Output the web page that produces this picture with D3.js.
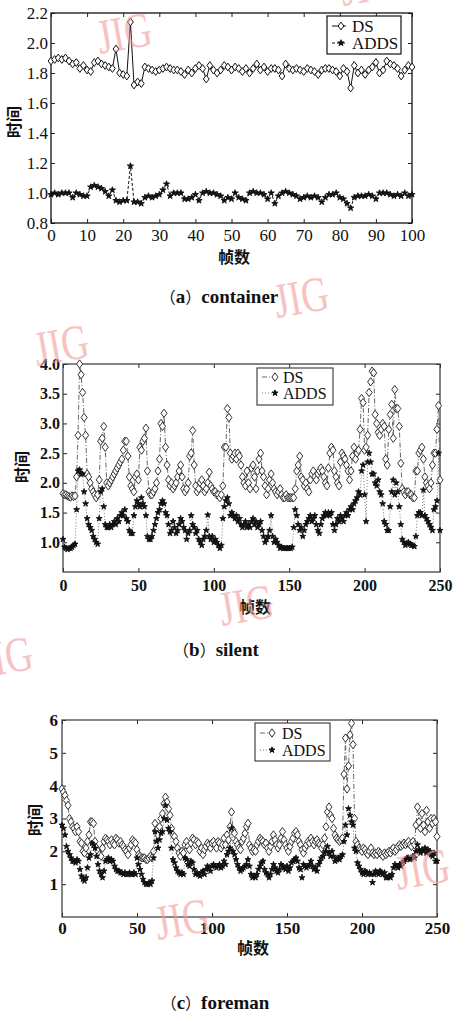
<!DOCTYPE html>
<html><head><meta charset="utf-8">
<script src="https://cdn.jsdelivr.net/npm/d3@7"></script>
<style>body{margin:0;background:#fff;overflow:hidden}</style>
</head><body>
<svg id="c" width="453" height="1013"></svg>
<script>
// ---------- DATA ----------
const seriesNames = ["DS", "ADDS"];
const axisLabelX = "帧数";
const axisLabelY = "时间";

// (a) container, frames 0..100
const dsA = [
 1.88,1.89,1.90,1.89,1.90,1.88,1.86,1.87,1.83,1.85,
 1.82,1.81,1.87,1.88,1.86,1.85,1.84,1.83,1.96,1.80,
 1.79,1.78,2.14,1.72,1.74,1.73,1.84,1.83,1.82,1.81,
 1.82,1.83,1.84,1.83,1.82,1.82,1.81,1.79,1.82,1.80,
 1.83,1.85,1.83,1.76,1.85,1.82,1.80,1.82,1.85,1.84,
 1.82,1.84,1.83,1.81,1.83,1.80,1.83,1.86,1.82,1.84,
 1.81,1.83,1.83,1.82,1.78,1.86,1.83,1.82,1.83,1.82,
 1.81,1.83,1.82,1.81,1.79,1.82,1.83,1.83,1.82,1.81,
 1.78,1.83,1.81,1.70,1.85,1.80,1.82,1.79,1.82,1.84,
 1.87,1.80,1.82,1.88,1.86,1.85,1.83,1.78,1.82,1.85,
 1.84];
const addsA = [
 0.99,1.00,0.99,1.00,1.00,1.00,0.97,1.00,0.99,0.98,
 0.98,1.04,1.05,1.04,1.03,1.01,0.98,1.02,0.95,0.94,
 0.95,0.95,1.18,0.94,0.94,0.93,0.97,0.98,0.97,0.98,
 0.99,1.02,1.06,0.98,1.00,1.00,1.00,0.96,0.96,0.97,
 0.99,0.95,1.00,1.01,1.00,1.00,0.99,0.98,0.95,0.97,
 0.96,1.00,0.97,0.96,0.95,1.00,1.01,1.00,1.00,0.99,
 0.96,1.00,0.93,0.98,1.00,1.01,1.00,0.99,0.98,0.96,
 0.97,0.98,0.97,0.98,0.97,0.94,0.97,0.99,0.99,1.00,
 0.97,0.96,0.93,0.90,0.97,0.98,0.98,0.98,0.99,0.98,
 0.96,1.00,1.00,1.00,0.99,0.98,0.99,0.98,1.00,0.98,
 0.99];

// (b) silent, frames 0..250
const dsB = [
 1.82,1.80,1.80,1.78,1.77,1.76,1.78,1.77,1.78,2.10,
 2.80,4.00,3.82,3.52,3.10,2.80,2.15,2.10,2.00,1.90,
 1.85,1.80,1.75,1.80,2.05,2.70,2.75,2.95,2.60,2.00,
 1.95,2.00,2.05,2.10,2.15,2.20,2.25,2.30,2.35,2.40,
 2.55,2.70,2.70,2.45,2.10,1.95,1.90,1.85,2.10,2.15,
 2.05,2.60,2.55,2.70,2.75,2.92,2.20,1.85,1.80,1.80,
 1.85,1.90,2.00,2.20,2.40,3.00,2.95,3.17,2.60,2.30,
 2.05,1.95,2.00,1.90,1.95,2.00,2.10,2.20,2.30,2.10,
 1.90,1.85,1.90,2.00,2.45,2.50,2.88,2.30,1.95,1.85,
 1.90,2.00,2.05,1.95,1.85,1.90,2.00,2.18,1.95,1.90,
 1.85,1.85,1.80,1.80,1.75,1.80,1.95,2.60,2.60,3.25,
 3.10,2.50,2.40,2.45,2.50,2.40,2.50,2.45,2.30,2.10,
 2.00,1.95,2.20,2.00,1.90,2.25,2.30,2.10,1.90,2.20,
 2.40,2.50,2.20,2.10,1.95,1.80,1.90,2.05,2.15,2.00,
 1.90,1.85,1.80,1.85,1.90,1.80,1.75,1.75,1.80,1.75,
 1.75,1.75,1.75,1.75,1.90,2.20,2.30,2.45,2.10,2.05,
 1.95,2.00,1.90,1.85,2.05,2.15,2.20,2.10,2.05,2.15,
 2.20,2.25,2.20,2.10,2.00,1.95,2.25,2.50,2.60,2.55,
 2.20,2.10,2.00,1.95,2.35,2.50,2.45,2.40,2.30,2.20,
 2.05,2.20,2.45,2.60,2.40,2.50,2.55,2.90,3.42,3.35,
 2.55,2.60,2.80,3.52,3.70,3.88,3.85,3.15,3.00,2.85,
 2.80,2.90,3.00,2.95,2.40,2.30,2.90,3.15,3.32,2.75,
 3.57,3.25,3.25,2.95,2.33,1.90,1.85,1.80,1.85,1.85,
 1.80,1.80,1.75,1.75,2.20,2.20,2.50,2.55,2.60,2.40,
 2.10,2.00,1.95,1.90,2.00,2.30,2.50,2.50,2.90,3.30,
 2.05];
const addsB = [
 1.05,0.92,0.90,0.88,0.90,0.90,0.92,0.95,0.97,1.55,
 2.20,2.22,2.15,2.15,1.85,1.65,1.40,1.30,1.25,1.20,
 1.10,1.05,1.00,0.97,1.40,1.85,1.90,1.60,1.30,1.25,
 1.25,1.30,1.25,1.30,1.35,1.30,1.40,1.35,1.45,1.50,
 1.45,1.55,1.40,1.35,1.20,1.15,1.15,1.45,1.60,1.70,
 1.65,1.60,1.75,1.65,1.60,1.45,1.10,1.05,1.05,1.10,
 1.20,1.30,1.40,1.50,1.55,1.65,1.70,1.65,1.50,1.45,
 1.30,1.15,1.20,1.35,1.25,1.15,1.20,1.30,1.40,1.35,
 1.25,1.20,1.05,1.15,1.20,1.45,1.30,1.25,1.15,1.20,
 1.05,1.00,0.95,1.05,1.10,1.20,1.46,1.10,1.05,1.10,
 1.00,1.05,1.00,0.95,0.90,0.95,1.40,1.60,1.70,1.75,
 1.65,1.45,1.50,1.45,1.40,1.45,1.35,1.40,1.30,1.25,
 1.30,1.35,1.25,1.30,1.25,1.35,1.40,1.30,1.35,1.25,
 1.30,1.35,1.20,1.10,1.00,1.05,1.10,1.20,1.45,1.10,
 1.00,1.05,1.00,0.95,0.90,0.92,0.90,0.90,0.90,0.90,
 0.90,0.90,0.92,1.25,1.55,1.45,1.30,1.20,1.25,1.10,
 1.20,1.30,1.35,1.40,1.45,1.35,1.40,1.45,1.30,1.20,
 1.15,1.30,1.40,1.45,1.50,1.45,1.50,1.45,1.50,1.30,
 1.20,1.30,1.40,1.35,1.45,1.40,1.35,1.45,1.50,1.45,
 1.55,1.60,1.55,1.65,1.70,1.75,1.85,1.80,2.20,2.30,
 1.80,1.35,2.35,2.50,2.35,2.15,2.15,2.00,1.95,2.05,
 1.85,1.80,1.65,1.35,1.30,1.20,1.20,1.60,1.85,2.05,
 1.80,2.00,1.85,1.60,1.30,1.05,1.00,0.95,0.98,1.00,
 0.97,0.95,0.95,0.93,1.10,1.45,1.50,1.50,1.45,1.88,
 1.45,1.40,1.35,1.30,1.25,1.20,1.55,1.60,1.70,2.50,
 1.20];

// (c) foreman, frames 0..250
const dsC = [
 3.90,3.80,3.70,3.55,3.40,3.00,2.90,2.75,2.70,2.60,
 2.75,2.60,2.30,2.25,2.00,1.95,2.10,2.30,2.50,2.90,
 2.90,2.85,2.30,2.10,2.00,1.90,1.85,2.10,2.30,2.40,
 2.35,2.30,2.20,2.35,2.25,2.20,2.40,2.35,2.25,2.30,
 2.20,2.15,2.05,2.00,1.90,2.10,2.20,2.35,2.30,2.25,
 2.05,1.90,1.85,1.80,1.80,1.80,1.75,1.75,1.80,1.85,
 1.80,2.00,2.85,2.65,2.50,2.75,3.00,3.15,3.45,3.65,
 3.50,3.30,3.10,2.70,2.50,2.45,2.30,2.10,1.95,1.85,
 2.00,1.95,2.20,2.30,2.15,2.05,2.25,2.40,2.35,2.20,
 2.30,2.25,2.00,2.10,1.90,2.05,2.15,2.25,2.20,2.10,
 2.25,2.30,2.20,2.10,2.30,2.25,2.10,2.20,2.40,2.20,
 2.50,2.35,2.75,3.20,2.65,2.55,2.30,2.20,2.10,2.05,
 2.30,2.40,2.55,2.75,2.85,2.20,2.10,2.00,2.05,2.00,
 2.20,2.30,2.40,2.35,2.30,2.20,2.25,2.10,2.00,2.15,
 2.30,2.50,2.35,2.20,2.10,2.20,2.40,2.60,2.35,2.20,
 2.10,2.00,2.15,2.30,2.40,2.55,2.60,2.50,2.30,2.20,
 2.05,1.95,2.10,2.20,2.30,2.25,2.40,2.30,2.20,2.30,
 2.35,2.25,2.20,2.10,2.20,2.40,2.75,3.20,3.35,3.10,
 3.00,2.70,2.50,2.40,2.35,2.30,2.35,2.40,4.35,5.45,
 3.90,4.60,5.55,5.90,5.25,3.00,2.30,2.20,2.10,2.05,
 2.00,2.10,2.05,1.95,1.90,2.00,2.10,1.95,1.90,1.95,
 1.90,2.00,1.95,1.90,1.85,1.95,1.90,1.95,2.00,1.95,
 2.05,2.10,2.00,2.05,2.15,2.20,2.15,2.20,2.25,2.20,
 2.25,2.30,2.20,2.15,2.30,2.20,2.80,3.35,2.90,2.70,
 3.15,2.80,2.60,3.25,2.90,2.70,3.00,2.85,3.00,2.90,
 2.45];
const addsC = [
 2.80,2.70,2.50,2.15,2.00,1.90,1.80,1.70,1.70,1.65,
 1.75,1.70,1.45,1.25,1.15,1.10,1.20,1.50,1.80,1.90,
 2.25,2.20,2.10,1.85,1.60,1.40,1.30,1.20,1.40,1.70,
 1.75,1.80,1.70,1.75,1.70,1.55,1.45,1.40,1.40,1.35,
 1.35,1.30,1.35,1.30,1.30,1.35,1.30,1.30,1.35,1.30,
 1.80,1.60,1.45,1.30,1.15,1.05,1.00,1.00,1.05,1.00,
 1.10,1.80,2.60,2.30,2.10,2.35,2.55,2.60,3.00,3.40,
 2.95,2.70,2.60,2.10,1.75,1.65,1.50,1.40,1.35,1.30,
 1.35,1.30,1.80,1.75,1.60,1.55,1.70,1.65,1.45,1.30,
 1.35,1.30,1.25,1.35,1.40,1.30,1.45,1.55,1.50,1.40,
 1.55,1.60,1.55,1.50,1.55,1.60,1.50,1.55,1.70,1.60,
 1.90,2.00,2.10,2.70,2.00,1.90,1.75,1.60,1.50,1.40,
 1.45,1.50,1.55,1.60,1.75,1.55,1.30,1.20,1.25,1.20,
 1.30,1.45,1.55,1.65,1.70,1.45,1.35,1.30,1.20,1.30,
 1.45,1.60,1.50,1.40,1.35,1.45,1.60,1.55,1.50,1.45,
 1.55,1.40,1.50,1.65,1.70,1.75,1.80,1.70,1.50,1.45,
 1.20,1.60,1.55,1.50,1.55,1.60,1.70,1.55,1.45,1.50,
 1.40,1.60,1.70,1.80,1.85,1.95,2.00,2.15,1.95,1.85,
 2.00,1.85,1.70,1.75,1.80,1.75,1.85,1.90,2.30,2.80,
 2.50,3.30,3.10,2.90,2.80,2.10,2.00,1.65,1.55,1.45,
 1.35,1.30,1.40,1.35,1.30,1.35,1.30,1.05,1.30,1.40,
 1.35,1.30,1.40,1.35,1.30,1.35,1.20,1.20,1.25,1.20,
 1.30,1.50,1.60,1.55,1.50,1.60,1.55,1.65,1.70,1.75,
 1.80,1.80,1.75,1.80,1.85,1.80,2.00,2.20,2.05,1.95,
 2.05,2.00,2.10,1.95,2.05,2.00,1.90,1.85,1.95,1.70,
 1.70];

// tick labels
const xTicksA = [0,10,20,30,40,50,60,70,80,90,100];
const yTicksA = [0.8,1.0,1.2,1.4,1.6,1.8,2.0,2.2];
const xTicksBC = [0,50,100,150,200,250];
const yTicksB = [1.0,1.5,2.0,2.5,3.0,3.5,4.0];
const yTicksC = [1,2,3,4,5,6];
const captions = [["a","container"],["b","silent"],["c","foreman"]];
const watermarkText = "JIG";

// ---------- DRAW ----------
const svg = d3.select("#c");
const serif = "'Liberation Serif','Times New Roman',serif";
const cjk = "'Noto Sans CJK SC','Noto Sans CJK JP',sans-serif";

const tallDiamond = { draw(ctx, size){ const s=Math.sqrt(size)/2; const w=s*0.85, h=s*1.15;
  ctx.moveTo(0,-h); ctx.lineTo(w,0); ctx.lineTo(0,h); ctx.lineTo(-w,0); ctx.closePath(); } };

function panel(cfg){
  const g = svg.append("g");
  const x = d3.scaleLinear().domain(cfg.xd).range([cfg.l, cfg.r]);
  const y = d3.scaleLinear().domain(cfg.yd).range([cfg.b, cfg.t]);
  const tickFont = cfg.tickFont;

  // watermark layer first (behind)
  const ax = g.append("g").attr("transform",`translate(0,${cfg.b})`)
    .call(d3.axisBottom(x).tickValues(cfg.xt).tickSizeInner(-4).tickSizeOuter(0).tickPadding(cfg.xpad).tickFormat(d3.format("d")));
  const ay = g.append("g").attr("transform",`translate(${cfg.l},0)`)
    .call(d3.axisLeft(y).tickValues(cfg.yt).tickSizeInner(-4).tickSizeOuter(0).tickPadding(cfg.ypad).tickFormat(d3.format(cfg.yfmt)));
  const at = g.append("g").attr("transform",`translate(0,${cfg.t})`)
    .call(d3.axisTop(x).tickValues(cfg.xt).tickSizeInner(-4).tickSizeOuter(0).tickFormat(""));
  const ar = g.append("g").attr("transform",`translate(${cfg.r},0)`)
    .call(d3.axisRight(y).tickValues(cfg.yt).tickSizeInner(-4).tickSizeOuter(0).tickFormat(""));
  [ax,ay,at,ar].forEach(a=>{
    a.attr("font-family",serif);
    a.select(".domain").remove();
    a.selectAll(".tick line").attr("stroke","#222").attr("stroke-width",1);
    a.selectAll("text").attr("fill","#111").style("font-family",serif)
      .style("font-size",tickFont.size+"px").style("font-weight",tickFont.weight);
  });

  g.append("rect").attr("x",cfg.l).attr("y",cfg.t).attr("width",cfg.r-cfg.l).attr("height",cfg.b-cfg.t)
    .attr("fill","none").attr("stroke",cfg.frameColor).attr("stroke-width",1.3);

  const line = d3.line().x((d,i)=>x(i)).y(d=>y(d));
  const ds = cfg.ds, ad = cfg.adds;
  const dsSym = d3.symbol().type(tallDiamond).size(cfg.diamondSize);
  const adSym = d3.symbol().type(d3.symbolStar).size(cfg.starSize);

  // DS
  g.append("path").datum(ds).attr("d",line).attr("fill","none")
    .attr("stroke",cfg.dsLine).attr("stroke-width",1).attr("stroke-dasharray",cfg.dsDash);
  g.append("g").selectAll("path").data(ds).join("path")
    .attr("transform",(d,i)=>`translate(${x(i)},${y(d)})`).attr("d",dsSym)
    .attr("fill","#fff").attr("stroke",cfg.dsMarker).attr("stroke-width",1);
  // ADDS
  g.append("path").datum(ad).attr("d",line).attr("fill","none")
    .attr("stroke",cfg.adLine).attr("stroke-width",1).attr("stroke-dasharray",cfg.adDash);
  g.append("g").selectAll("path").data(ad).join("path")
    .attr("transform",(d,i)=>`translate(${x(i)},${y(d)})`).attr("d",adSym)
    .attr("fill","#111").attr("stroke","#111").attr("stroke-width",0.9);

  // legend
  const L = cfg.legend;
  g.append("rect").attr("x",L.x).attr("y",L.y).attr("width",L.w).attr("height",L.h)
    .attr("fill","#fff").attr("stroke",cfg.frameColor).attr("stroke-width",1.2);
  const rows = [
    {name:seriesNames[0], stroke:cfg.dsLine, dash:cfg.dsDash, sym:dsSym, fill:"#fff", mk:cfg.dsMarker},
    {name:seriesNames[1], stroke:cfg.adLine, dash:cfg.adDash, sym:adSym, fill:"#111", mk:"#111"}
  ];
  rows.forEach((r,k)=>{
    const cy = L.y + L.r1 + k*L.dy;
    g.append("line").attr("x1",L.x+5).attr("x2",L.x+L.sw).attr("y1",cy).attr("y2",cy)
      .attr("stroke",r.stroke).attr("stroke-width",1).attr("stroke-dasharray",r.dash);
    g.append("path").attr("transform",`translate(${L.x+L.mx},${cy})`).attr("d",r.sym)
      .attr("fill",r.fill).attr("stroke",r.mk).attr("stroke-width",1);
    g.append("text").attr("x",L.x+L.tx).attr("y",cy+5.5).text(r.name)
      .style("font-family",serif).style("font-size",L.fs+"px").attr("fill","#111");
  });

  // axis labels
  g.append("text").attr("x",cfg.xl[0]).attr("y",cfg.xl[1]).attr("text-anchor","middle")
    .style("font-family",cjk).style("font-size","16px").style("font-weight","bold").attr("fill","#111").text(axisLabelX);
  g.append("text").attr("transform",`translate(${cfg.yl[0]},${cfg.yl[1]}) rotate(-90)`).attr("text-anchor","middle")
    .attr("dy","0.36em")
    .style("font-family",cjk).style("font-size","16px").style("font-weight","bold").attr("fill","#111").text(axisLabelY);
  // caption
  const cap = g.append("text").attr("x",cfg.cap[0]).attr("y",cfg.cap[1]).attr("text-anchor","middle").attr("fill","#111");
  cap.append("tspan").style("font-family",cjk).style("font-size","16px").text("（");
  cap.append("tspan").style("font-family",serif).style("font-size","19px").style("font-weight","bold").text(captions[cfg.idx][0]);
  cap.append("tspan").style("font-family",cjk).style("font-size","16px").text("）");
  cap.append("tspan").style("font-family",serif).style("font-size","19px").style("font-weight","bold").text(captions[cfg.idx][1]);
}

panel({idx:0, l:51, r:412, t:13, b:223, xd:[0,100], yd:[0.8,2.2], xt:xTicksA, yt:yTicksA, yfmt:".1f",
  xpad:6, ypad:3, tickFont:{size:17, weight:"normal"}, frameColor:"#111",
  ds:dsA, adds:addsA, dsLine:"#111", dsDash:null, adLine:"#111", adDash:"3,2",
  dsMarker:"#111", diamondSize:46, starSize:12,
  legend:{x:327, y:16, w:74, h:38, r1:10, dy:17, sw:19, mx:14, tx:25, fs:17},
  xl:[234,263], yl:[14,122], cap:[219,303]});

panel({idx:1, l:63, r:440, t:364, b:572, xd:[0,250], yd:[0.5,4.0], xt:xTicksBC, yt:yTicksB, yfmt:".1f",
  xpad:8, ypad:3, tickFont:{size:16, weight:"bold"}, frameColor:"#444",
  ds:dsB, adds:addsB, dsLine:"#666", dsDash:"5,2,1,2", adLine:"#777", adDash:"1,2",
  dsMarker:"#333", diamondSize:52, starSize:11,
  legend:{x:257, y:368, w:76, h:37, r1:9, dy:16, sw:19, mx:18, tx:26, fs:16},
  xl:[255,613], yl:[22,467], cap:[216,656]});

panel({idx:2, l:62, r:437, t:720, b:917, xd:[0,250], yd:[0,6], xt:xTicksBC, yt:yTicksC, yfmt:"d",
  xpad:5, ypad:4, tickFont:{size:17, weight:"bold"}, frameColor:"#444",
  ds:dsC, adds:addsC, dsLine:"#666", dsDash:"5,2,1,2", adLine:"#777", adDash:"1,2",
  dsMarker:"#333", diamondSize:52, starSize:11,
  legend:{x:255, y:723, w:75, h:38, r1:10, dy:17, sw:19, mx:17, tx:27, fs:16},
  xl:[253,954], yl:[35,820], cap:[215,1009]});

// watermarks (faint, on top like the scanned stamp)
const marks = [[100,54,-10],[343,6,-10],[277,318,-10],[37,366,-10],[222,626,-10],[-19,678,-10],[158,940,-10],[398,890,-10]];
marks.forEach(m=>{
  svg.append("text").attr("transform",`translate(${m[0]},${m[1]}) rotate(${m[2]}) scale(1,1.3)`)
    .text(watermarkText).style("font-family",serif).style("font-size","38px")
    .attr("fill","#f29a9a").attr("opacity",0.6);
});
</script>
</body></html>
